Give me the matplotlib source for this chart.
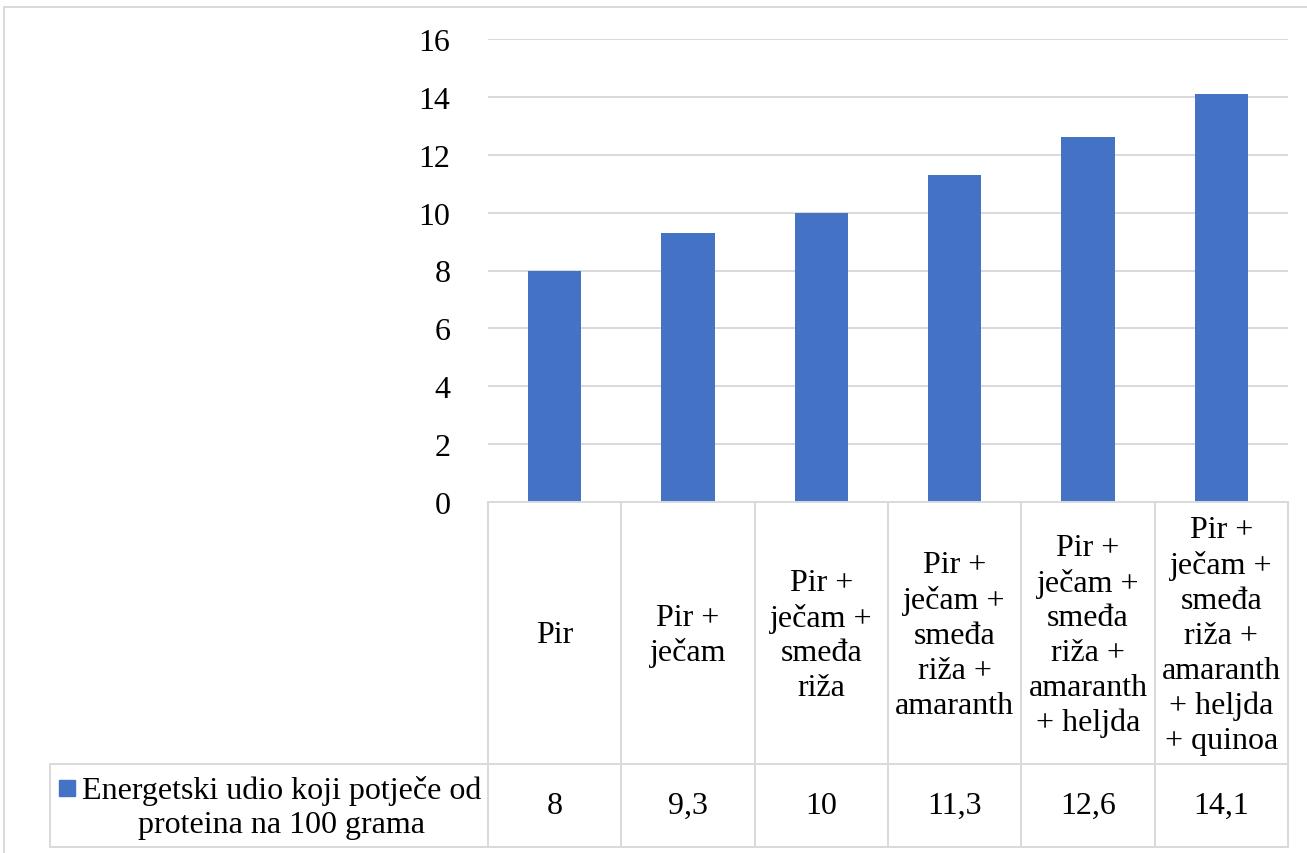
import matplotlib.pyplot as plt
from matplotlib.lines import Line2D
from matplotlib.patches import Rectangle

# ------------------------------------------------------------------
# data
# ------------------------------------------------------------------
categories = [
    "Pir",
    "Pir +\nječam",
    "Pir +\nječam +\nsmeđa\nriža",
    "Pir +\nječam +\nsmeđa\nriža +\namaranth",
    "Pir +\nječam +\nsmeđa\nriža +\namaranth\n+ heljda",
    "Pir +\nječam +\nsmeđa\nriža +\namaranth\n+ heljda\n+ quinoa",
]
values = [8, 9.3, 10, 11.3, 12.6, 14.1]
series_name = "Energetski udio koji potječe od\nproteina na 100 grama"
yticks = [0, 2, 4, 6, 8, 10, 12, 14, 16]

BLUE = "#4472C4"
GRID = "#D9D9D9"
FONT = "Liberation Serif"
FS = 23
LS = 1.26

W, H = 1307, 854
plt.rcParams["font.family"] = FONT

fig = plt.figure(figsize=(W / 100, H / 100), dpi=100)


def fx(px):
    return px / W


def fy(py):
    return 1 - py / H


# plot area in pixel coordinates
L, R, T, B = 488, 1288, 40, 503
ax = fig.add_axes([fx(L), fy(B), fx(R) - fx(L), fy(T) - fy(B)])
x = list(range(len(values)))
ax.bar(x, values, width=0.4, color=BLUE, zorder=3)
ax.set_xlim(-0.5, len(values) - 0.5)
ax.set_ylim(0, 16)
ax.set_yticks(yticks)
ax.set_yticklabels([str(t) for t in yticks], fontsize=FS)
ax.tick_params(axis="y", length=0, pad=27)
ax.set_xticks([])
ax.grid(axis="y", color=GRID, linewidth=1.4, zorder=0)
for s in ax.spines.values():
    s.set_visible(False)

# ------------------------------------------------------------------
# data table below the plot
# ------------------------------------------------------------------
TB = 848           # table bottom
RD = 765           # row divider
tax = fig.add_axes([fx(L), fy(TB), fx(R) - fx(L), fy(B) - fy(TB)])
tax.set_xlim(-0.5, len(values) - 0.5)
tax.set_ylim(TB - B, 0)
tax.axis("off")

colw = (R - L) / len(values)
leg_left = -0.5 - (L - 50) / colw
rd = RD - B
bot = TB - B
lk = dict(color=GRID, linewidth=1.4, clip_on=False, solid_capstyle="projecting")

for i in range(len(values) + 1):
    tax.plot([i - 0.5, i - 0.5], [0, bot], **lk)
tax.plot([-0.5, len(values) - 0.5], [0, 0], **lk)
tax.plot([leg_left, len(values) - 0.5], [rd, rd], **lk)
tax.plot([leg_left, len(values) - 0.5], [bot, bot], **lk)
tax.plot([leg_left, leg_left], [rd, bot], **lk)

for i, (c, v) in enumerate(zip(categories, values)):
    tax.text(i, rd / 2 + 2, c, ha="center", va="center", fontsize=FS,
             linespacing=LS, clip_on=False)
    tax.text(i, (rd + bot) / 2, f"{v:g}".replace(".", ","), ha="center",
             va="center", fontsize=FS, clip_on=False)

# legend key + series name
fig.text(fx(282), fy(808), series_name, ha="center", va="center",
         fontsize=FS, linespacing=LS, multialignment="center")
fig.patches.append(Rectangle((fx(59), fy(797)), fx(16), fy(781) - fy(797),
                             transform=fig.transFigure, color=BLUE))

# chart frame (left and top edge visible)
fig.lines.append(Line2D([fx(4), fx(4)], [fy(8), 0], transform=fig.transFigure,
                        color=GRID, linewidth=1.4))
fig.lines.append(Line2D([fx(4), 1], [fy(8), fy(8)], transform=fig.transFigure,
                        color=GRID, linewidth=1.4))

fig.savefig("out.png", dpi=100)
